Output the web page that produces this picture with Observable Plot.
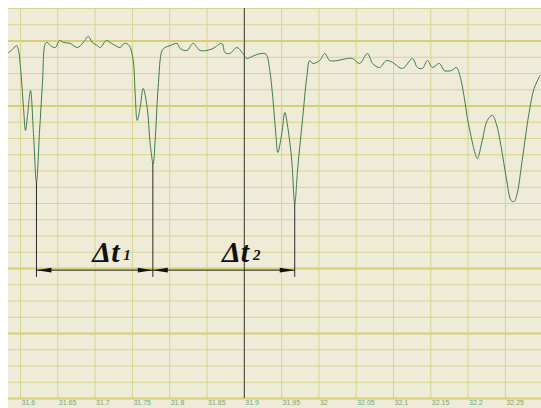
<!DOCTYPE html>
<html><head><meta charset="utf-8">
<script src="https://cdn.jsdelivr.net/npm/d3@7"></script>
<script src="https://cdn.jsdelivr.net/npm/@observablehq/plot@0.6"></script>
<style>
html,body{margin:0;padding:0;background:#fff;}
#chart{position:absolute;left:8px;top:8px;}
</style></head><body><div id="chart"></div>
<script>
const time = [31.5840,31.5893,31.5947,31.5973,31.6000,31.6040,31.6067,31.6094,31.6134,31.6174,31.6214,31.6254,31.6294,31.6334,31.6361,31.6401,31.6468,31.6521,31.6575,31.6668,31.6762,31.6842,31.6909,31.6963,31.7029,31.7070,31.7150,31.7203,31.7270,31.7337,31.7390,31.7444,31.7471,31.7511,31.7537,31.7564,31.7604,31.7644,31.7698,31.7738,31.7778,31.7805,31.7845,31.7898,31.7938,31.8005,31.8099,31.8139,31.8233,31.8313,31.8406,31.8500,31.8580,31.8700,31.8741,31.8807,31.8901,31.8981,31.9035,31.9075,31.9168,31.9275,31.9302,31.9342,31.9382,31.9422,31.9449,31.9503,31.9543,31.9583,31.9636,31.9676,31.9717,31.9783,31.9837,31.9877,31.9917,32.0011,32.0078,32.0144,32.0251,32.0372,32.0452,32.0545,32.0652,32.0719,32.0813,32.0906,32.0987,32.1120,32.1254,32.1321,32.1388,32.1455,32.1521,32.1615,32.1682,32.1775,32.1842,32.1882,32.1949,32.1989,32.2043,32.2083,32.2123,32.2190,32.2257,32.2324,32.2377,32.2444,32.2511,32.2578,32.2618,32.2658,32.2725,32.2818,32.2885,32.2965];
const signal = [21.29,21.48,21.72,21.42,20.37,17.91,16.49,17.42,18.95,16.31,
13.29,16.31,19.38,21.85,21.91,21.72,21.60,22.03,21.91,21.85,
21.60,21.91,22.28,21.91,21.72,21.60,22.03,21.91,21.72,21.60,
21.85,21.78,21.60,20.80,18.77,17.11,17.91,19.08,17.91,15.69,
14.46,15.88,19.14,21.42,21.60,21.72,21.85,21.54,21.42,21.85,
21.42,21.42,21.54,21.85,21.29,21.23,21.60,21.23,20.92,20.98,
21.17,21.23,21.11,20.18,18.52,16.31,15.14,16.31,17.60,16.68,
14.65,12.00,14.22,17.29,19.75,20.80,20.62,20.80,21.23,20.80,
20.80,20.92,20.92,20.62,21.23,20.62,20.37,20.80,20.68,20.31,
20.92,20.37,20.31,20.80,20.37,20.62,20.18,20.18,20.37,20.00,
18.52,17.29,16.06,15.26,14.77,15.88,17.11,17.42,16.92,15.45,
13.60,12.18,12.12,12.62,14.65,17.60,19.08,19.88];

const xTicks = [31.6,31.65,31.7,31.75,31.8,31.85,31.9,31.95,32,32.05,32.1,32.15,32.2,32.25];
const xTickLabels = ["31.6","31.65","31.7","31.75","31.8","31.85","31.9","31.95","32","32.05","32.1","32.15","32.2","32.25"];
const gridY = d3.range(0, 25);
const majorGridY = [22, 18, 8, 4, 0];
const cursorTime = [31.9];

const markerTimes = [31.6214, 31.7774, 31.9676];
const markerTop = [13.29, 14.46, 12.00];
const markerBottom = 7.45;
const arrowLevel = 7.9;
const intervalStart = [31.6214, 31.7774];
const intervalEnd = [31.7774, 31.9676];
const intervalLabel = ["Δt", "Δt"];
const intervalSub = ["1", "2"];
const labelTime = [31.6963, 31.8700];
const labelLevel = 8.43;

const headRight = {draw(ctx){ctx.moveTo(0,0);ctx.lineTo(-15,-2.4);ctx.lineTo(-15,2.4);ctx.closePath();}};
const headLeft = {draw(ctx){ctx.moveTo(0,0);ctx.lineTo(15,-2.4);ctx.lineTo(15,2.4);ctx.closePath();}};

const chart = Plot.plot({
  width: 533, height: 400,
  marginLeft: 0, marginRight: 0, marginTop: 0, marginBottom: 10,
  style: {background: "#eeebd8", fontFamily: "'Liberation Sans', Arial, sans-serif", overflow: "visible"},
  x: {domain: [31.58391, 32.29839], axis: null},
  y: {domain: [0, 24], axis: null},
  marks: [
    Plot.ruleY(gridY, {stroke: "#d8d48f", strokeWidth: 1}),
    Plot.ruleY(majorGridY, {stroke: "#d6d070", strokeWidth: 2}),
    Plot.ruleX(xTicks, {stroke: "#d8d48f", strokeWidth: 1}),
    Plot.ruleX(cursorTime, {stroke: "#3a3a3a", strokeWidth: 1}),
    Plot.axisX(xTicks, {tickSize: 0, tickPadding: 2, tickFormat: (d, i) => xTickLabels[i], textAnchor: "start", dx: 1, fontSize: 7, color: "#74a874"}),
    Plot.line(time, {x: time, y: signal, curve: "catmull-rom", stroke: "#3f7b50", strokeWidth: 1}),
    Plot.ruleX(markerTimes, {x: markerTimes, y1: markerTop, y2: markerBottom, stroke: "#2a2a2a", strokeWidth: 1}),
    Plot.ruleY(intervalStart, {y: arrowLevel, x1: intervalStart, x2: intervalEnd, stroke: "#1a1a1a", strokeWidth: 1}),
    Plot.dot(intervalStart, {x: intervalStart, y: arrowLevel, symbol: headLeft, fill: "#111", stroke: null}),
    Plot.dot(intervalEnd, {x: intervalEnd, y: arrowLevel, symbol: headRight, fill: "#111", stroke: null}),
    Plot.text(labelTime, {x: labelTime, y: labelLevel, text: intervalLabel, textAnchor: "start", lineAnchor: "bottom", fontFamily: "'Liberation Serif', 'Times New Roman', serif", fontStyle: "italic", fontWeight: "bold", fontSize: 30, fill: "#111"}),
    Plot.text(labelTime, {x: labelTime, y: labelLevel, text: intervalSub, dx: 31, dy: -2, textAnchor: "start", lineAnchor: "bottom", fontFamily: "'Liberation Serif', 'Times New Roman', serif", fontStyle: "italic", fontWeight: "bold", fontSize: 15, fill: "#111"})
  ]
});
document.getElementById("chart").appendChild(chart);
</script></body></html>
